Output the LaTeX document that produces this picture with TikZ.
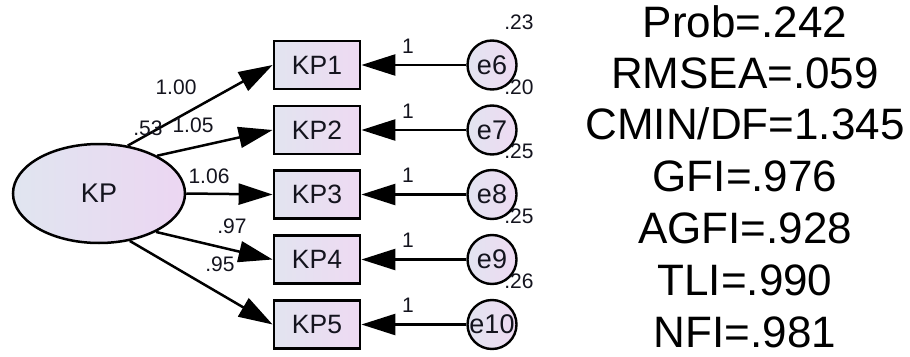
\documentclass[tikz,border=0pt]{standalone}
\usepackage{fontspec}
\setmainfont{Liberation Sans}
\usetikzlibrary{arrows.meta,shapes.geometric}
\definecolor{boxl}{RGB}{226,228,240}
\definecolor{boxr}{RGB}{238,218,242}
\definecolor{ell}{RGB}{224,229,240}
\definecolor{elr}{RGB}{236,214,242}
\definecolor{txt}{RGB}{20,20,30}
\begin{document}
\begin{tikzpicture}[x=1pt,y=-1pt,
  obs/.style={draw, line width=2.8pt, minimum width=86pt, minimum height=48pt, inner sep=0pt,
    left color=boxl, right color=boxr, text=txt, font=\fontsize{26.5}{30}\selectfont},
  err/.style={circle, draw, line width=2.4pt, minimum size=49pt, inner sep=0pt,
    left color=boxl, right color=boxr, text=txt, font=\fontsize{27}{30}\selectfont},
  lat/.style={ellipse, draw, line width=2.5pt, minimum width=172pt, minimum height=99pt, inner sep=0pt,
    left color=ell, right color=elr, text=txt, font=\fontsize{27}{30}\selectfont},
  lbl/.style={inner sep=0pt, text=txt, font=\fontsize{21}{24}\selectfont},
  fit/.style={anchor=base, inner sep=0pt, text=black, font=\fontsize{44}{48}\selectfont},
  arr/.style={line width=2.5pt, -{Triangle[length=34pt,width=21pt]}}
]
\useasboundingbox (0,0) rectangle (910,356);

% latent
\node[lat] (KP) at (99,193.5) {KP};

% observed
\node[obs] (KP1) at (317,65) {KP1};
\node[obs] (KP2) at (317,130) {KP2};
\node[obs] (KP3) at (317,194.5) {KP3};
\node[obs] (KP4) at (317,259.5) {KP4};
\node[obs] (KP5) at (317,324.5) {KP5};

% errors
\node[err] (e6) at (492,65) {e6};
\node[err] (e7) at (492,130) {e7};
\node[err] (e8) at (492,194.5) {e8};
\node[err] (e9) at (492,259.5) {e9};
\node[err] (e10) at (492,324.5) {e10};

% loadings
\draw[arr] (KP.59) -- (KP1.west);
\draw[arr] (KP.33) -- (KP2.west);
\draw[arr] (KP.east) -- (KP3.west);
\draw[arr] (KP.-34) -- (KP4.west);
\draw[arr] (KP.-57) -- (KP5.west);

% error paths
\draw[arr] (e6.west) -- (KP1.east);
\draw[arr] (e7.west) -- (KP2.east);
\draw[arr] (e8.west) -- (KP3.east);
\draw[arr] (e9.west) -- (KP4.east);
\draw[arr] (e10.west) -- (KP5.east);

% loading labels
\node[lbl] (l1) at (176,87.5) {1.00};
\node[lbl] (vKP) at (148,128) {.53};
\node[lbl] (l2) at (193,125) {1.05};
\node[lbl] (l3) at (209,176) {1.06};
\node[lbl] (l4) at (232,226) {.97};
\node[lbl] (l5) at (220,264) {.95};

% error path labels
\node[lbl] (o6) at (408,46) {1};
\node[lbl] (o7) at (408,111) {1};
\node[lbl] (o8) at (408,175.5) {1};
\node[lbl] (o9) at (408,240.5) {1};
\node[lbl] (o10) at (408,305.5) {1};

% variances
\node[lbl] (v6) at (519,22) {.23};
\node[lbl] (v7) at (519,87) {.20};
\node[lbl] (v8) at (519,151.5) {.25};
\node[lbl] (v9) at (519,216.5) {.25};
\node[lbl] (v10) at (519,281.5) {.26};

% fit indices
\node[fit] (f1) at (745,37) {Prob=.242};
\node[fit] (f2) at (745,88.5) {RMSEA=.059};
\node[fit] (f3) at (745,139.5) {CMIN/DF=1.345};
\node[fit] (f4) at (745,191) {GFI=.976};
\node[fit] (f5) at (745,243) {AGFI=.928};
\node[fit] (f6) at (745,295) {TLI=.990};
\node[fit] (f7) at (745,347) {NFI=.981};
\end{tikzpicture}
\end{document}
